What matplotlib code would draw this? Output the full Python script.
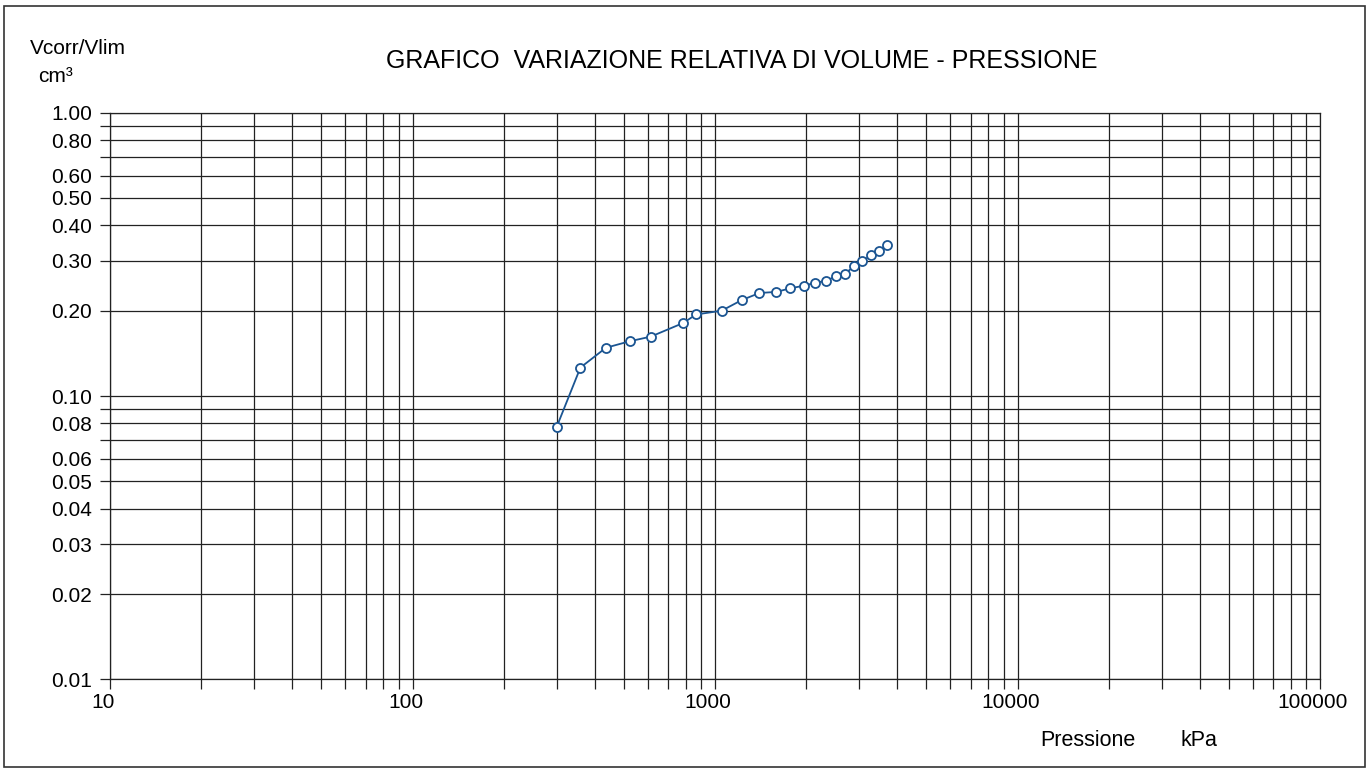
import numpy as np
import matplotlib
matplotlib.use("Agg")
from matplotlib import pyplot as plt
from matplotlib.patches import Rectangle
from matplotlib.ticker import FixedLocator, NullFormatter
from matplotlib.transforms import ScaledTranslation

plt.rcParams['font.family'] = ['Liberation Sans', 'DejaVu Sans']

# dati
pressione = [300, 359, 436, 522, 613, 785, 866, 1052, 1225, 1403, 1593,
             1776, 1965, 2144, 2331, 2515, 2694, 2885, 3073, 3274, 3479, 3710]
vrel = [0.078, 0.126, 0.148, 0.156, 0.162, 0.181, 0.194, 0.200, 0.218, 0.231, 0.233,
        0.240, 0.245, 0.251, 0.255, 0.265, 0.270, 0.288, 0.299, 0.314, 0.324, 0.342]

y_labels = [1.0, 0.8, 0.6, 0.5, 0.4, 0.3, 0.2, 0.1, 0.08, 0.06, 0.05, 0.04, 0.03, 0.02, 0.01]
y_extra = [0.9, 0.7, 0.09, 0.07]
x_labels = [10, 100, 1000, 10000, 100000]

W, H = 1366, 769
fig = plt.figure(figsize=(W / 100, H / 100), dpi=100)
ax = fig.add_axes([110 / W, (H - 679.3) / H, 1210 / W, (679.3 - 112.7) / H])

ax.set_xscale('log')
ax.set_yscale('log')
ax.set_xlim(10, 100000)
ax.set_ylim(0.01, 1.0)

# griglia verticale: tutte le decadi 1..9
xg = [m * 10 ** e for e in range(1, 5) for m in range(1, 10)] + [100000]
ax.xaxis.set_major_locator(FixedLocator(x_labels))
ax.xaxis.set_minor_locator(FixedLocator([v for v in xg if v not in x_labels]))
ax.xaxis.set_minor_formatter(NullFormatter())
ax.set_xticklabels([str(v) for v in x_labels])

ax.yaxis.set_major_locator(FixedLocator(y_labels))
ax.yaxis.set_minor_locator(FixedLocator(y_extra))
ax.yaxis.set_minor_formatter(NullFormatter())
ax.set_yticklabels(['%.2f' % v for v in y_labels])

ax.grid(True, which='both', color='#222222', linewidth=0.9)
ax.tick_params(which='both', direction='out', length=7, width=0.9, color='#222222',
               labelsize=15)
ax.tick_params(axis='y', pad=6)
ax.tick_params(axis='x', pad=3)
for s in ax.spines.values():
    s.set_linewidth(0.9)
    s.set_color('#222222')

# etichette x leggermente a sinistra come nell'originale
sposta = ScaledTranslation(-7 / 100, 0, fig.dpi_scale_trans)
for lab in ax.get_xticklabels():
    lab.set_transform(lab.get_transform() + sposta)

ax.plot(pressione, vrel, color='#1b5592', linewidth=1.3, marker='o', markersize=6.5,
        markerfacecolor='white', markeredgecolor='#1b5592', markeredgewidth=1.3, zorder=5)

fig.text(742 / W, 1 - 61 / H, 'GRAFICO  VARIAZIONE RELATIVA DI VOLUME - PRESSIONE',
         ha='center', va='center', fontsize=18)
fig.text(30 / W, 1 - 48 / H, 'Vcorr/Vlim', ha='left', va='center', fontsize=15)
fig.text(38 / W, 1 - 76 / H, 'cm³', ha='left', va='center', fontsize=15)
fig.text(1040 / W, 1 - 741 / H, 'Pressione', ha='left', va='center', fontsize=15.5)
fig.text(1180 / W, 1 - 741 / H, 'kPa', ha='left', va='center', fontsize=15.5)

# cornice esterna
fig.patches.append(Rectangle((4 / W, 2 / H), (1365 - 4) / W, (763 - 2) / H,
                             transform=fig.transFigure, fill=False,
                             edgecolor='#333333', linewidth=1.2))

fig.savefig('out.png', dpi=100)
